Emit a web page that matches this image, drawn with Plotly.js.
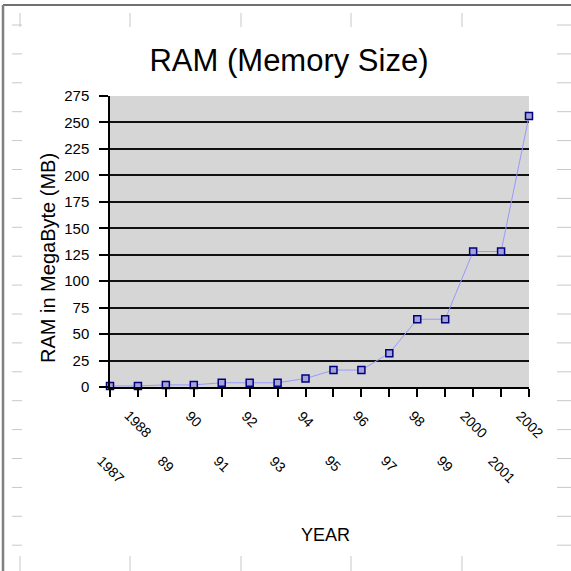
<!DOCTYPE html>
<html>
<head>
<meta charset="utf-8">
<script src="https://cdn.plot.ly/plotly-3.0.1.min.js"></script>
<style>html,body{margin:0;padding:0;background:#fff;}#chart{width:571px;height:571px;}</style>
</head>
<body>
<div id="chart"></div>
<script>
// ---- data ----
const categories = ['1987','1988','1989','1990','1991','1992','1993','1994','1995','1996','1997','1998','1999','2000','2001','2002'];
const ramMB = [1, 1, 2, 2, 4, 4, 4, 8, 16, 16, 32, 64, 64, 128, 128, 256];
const tickLabels = ['1987','1988','89','90','91','92','93','94','95','96','97','98','99','2000','2001','2002'];
const yTicks = [0, 25, 50, 75, 100, 125, 150, 175, 200, 225, 250, 275];

// ---- layout geometry ----
const W = 571, H = 571;
const M = {l: 110, r: 42, t: 96, b: 184};
const pw = W - M.l - M.r, ph = H - M.t - M.b;
const px = v => (v - M.l) / pw;
const py = v => (H - M.b - v) / ph;
const FONT = 'Liberation Sans, Arial, sans-serif';

// category tick labels in two staggered rows (x = category index on the category axis)
const annotations = tickLabels.map((t, i) => ({
  x: i, xref: 'x', y: 0, yref: 'paper',
  text: t, showarrow: false, textangle: 45,
  xanchor: 'center', yanchor: 'top',
  yshift: (i % 2 === 1) ? -18 : -63,
  font: {family: FONT, size: 14, color: '#000'}
}));
// axis titles
annotations.push({
  xref: 'paper', yref: 'paper', x: px(48), y: py(258),
  text: 'RAM in MegaByte (MB)', textangle: -90, showarrow: false,
  xanchor: 'center', yanchor: 'middle',
  font: {family: FONT, size: 20, color: '#000'}
});
annotations.push({
  xref: 'paper', yref: 'paper', x: px(325), y: py(535),
  text: 'YEAR', showarrow: false,
  xanchor: 'center', yanchor: 'middle',
  font: {family: FONT, size: 18, color: '#000'}
});

// faint worksheet cell marks + frame
const shapes = [];
const gray = '#c8c8c8';
const colX = [20, 130, 241, 351, 462];
colX.forEach(x => {
  shapes.push({type: 'line', xref: 'paper', yref: 'paper', x0: px(x), x1: px(x), y0: py(13), y1: py(27), line: {color: gray, width: 1}});
  shapes.push({type: 'line', xref: 'paper', yref: 'paper', x0: px(x), x1: px(x), y0: py(556), y1: py(571), line: {color: gray, width: 1}});
});
for (let k = 0; k <= 18; k++) {
  const y = 25 + 28.9 * k;
  shapes.push({type: 'line', xref: 'paper', yref: 'paper', x0: px(557), x1: px(571), y0: py(y), y1: py(y), line: {color: gray, width: 1}});
  shapes.push({type: 'line', xref: 'paper', yref: 'paper', x0: px(12), x1: px(22), y0: py(y), y1: py(y), line: {color: gray, width: 1}});
}
shapes.push({type: 'line', xref: 'paper', yref: 'paper', x0: px(3), x1: px(571), y0: py(5), y1: py(5), line: {color: '#707070', width: 2}});
shapes.push({type: 'line', xref: 'paper', yref: 'paper', x0: px(3), x1: px(3), y0: py(5), y1: py(571), line: {color: '#808080', width: 2.5}});

const trace = {
  type: 'scatter', mode: 'lines+markers',
  x: categories, y: ramMB,
  line: {color: '#9999ff', width: 1},
  marker: {symbol: 'square', size: 7, color: '#a3a3d6', line: {color: '#000080', width: 1.5}},
  cliponaxis: false, hoverinfo: 'x+y'
};

const layout = {
  width: W, height: H,
  margin: M,
  paper_bgcolor: '#ffffff',
  plot_bgcolor: '#d6d6d6',
  showlegend: false,
  font: {family: FONT, color: '#000'},
  title: {
    text: 'RAM (Memory Size)',
    font: {family: FONT, size: 31, color: '#000'},
    xref: 'container', yref: 'container',
    x: 289 / W, xanchor: 'center',
    y: 1 - 60 / H, yanchor: 'middle'
  },
  xaxis: {
    type: 'category', range: [0, categories.length - 1],
    showgrid: false, zeroline: false,
    showline: true, linecolor: '#000', linewidth: 1.5,
    ticks: 'outside', ticklen: 8, tickwidth: 1.5, tickcolor: '#000',
    showticklabels: false,
    fixedrange: true
  },
  yaxis: {
    range: [0, 275], tickvals: yTicks, ticktext: yTicks.map(String),
    showgrid: true, gridcolor: '#111', gridwidth: 1.5,
    zeroline: false,
    showline: true, linecolor: '#000', linewidth: 1.5,
    ticks: 'outside', ticklen: 9, tickwidth: 1.5, tickcolor: '#000',
    ticklabelstandoff: 7,
    tickfont: {family: FONT, size: 15, color: '#000'},
    fixedrange: true
  },
  annotations: annotations,
  shapes: shapes
};

Plotly.newPlot('chart', [trace], layout, {displayModeBar: false});
</script>
</body>
</html>
